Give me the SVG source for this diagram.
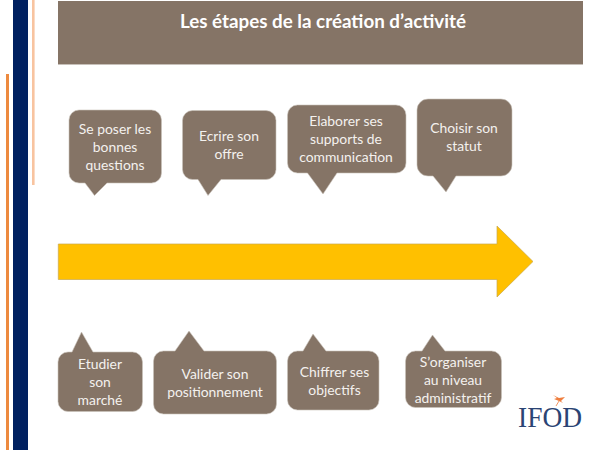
<svg xmlns="http://www.w3.org/2000/svg" width="600" height="450" viewBox="0 0 600 450">
<style>
.c{fill:#857466;stroke:#c9c2bb;stroke-width:.6}
.t{font-family:"Lato","Open Sans","Liberation Sans",sans-serif;font-size:13.9px;fill:#f4f1ee;text-anchor:middle}
</style>
<rect width="600" height="450" fill="#fff"/>
<rect x="13" y="0" width="15" height="450" fill="#002060"/>
<rect x="32" y="0" width="2.600" height="185" fill="#f8c4a0"/>
<rect x="6" y="74" width="3" height="376" fill="#ed8a3f"/>
<g id="title"><rect x="58" y="1" width="525" height="63.500" fill="#857466"/>
<rect x="58" y="64" width="525" height="0.800" fill="#c9c2bb"/>
<text x="323" y="28" style="font-family:'Lato','Open Sans','Liberation Sans',sans-serif;font-size:18.800px;font-weight:700;fill:#fff;text-anchor:middle">Les étapes de la création d’activité</text></g>
<g id="connectors"><path id="arrow" d="M58.300 244H497V226L533 261.500L497 297V279.500H58.300Z" fill="#ffc000" stroke="#c9a94f" stroke-width=".7"/></g>
<g id="n1"><path class="c" d="M79 110H151.500a10 10 0 0 1 10 10V173a10 10 0 0 1-10 10H107L94.500 195.500L85 183H79a10 10 0 0 1-10-10V120a10 10 0 0 1 10-10Z"/>
<text class="t" x="115" y="134">Se poser les</text><text class="t" x="115" y="152">bonnes</text><text class="t" x="115" y="170">questions</text></g>
<g id="n2"><path class="c" d="M192.500 110.500H266a10 10 0 0 1 10 10V169.500a10 10 0 0 1-10 10H221L208 195.500L198 179.500H192.500a10 10 0 0 1-10-10V120.500a10 10 0 0 1 10-10Z"/>
<text class="t" x="229" y="141">Ecrire son</text><text class="t" x="229" y="159">offre</text></g>
<g id="n3"><path class="c" d="M297.500 105H396a10 10 0 0 1 10 10V163a10 10 0 0 1-10 10H337L323 194L307.500 173H297.500a10 10 0 0 1-10-10V115a10 10 0 0 1 10-10Z"/>
<text class="t" x="346" y="126">Elaborer ses</text><text class="t" x="346" y="144">supports de</text><text class="t" x="346" y="162">communication</text></g>
<g id="n4"><path class="c" d="M428 99H501a11 11 0 0 1 11 11V165a11 11 0 0 1-11 11H456L446 192L433 176H428a11 11 0 0 1-11-11V110a11 11 0 0 1 11-11Z"/>
<text class="t" x="464" y="133">Choisir son</text><text class="t" x="464" y="151">statut</text></g>
<g id="n5"><path class="c" d="M68 352H72L81.500 332L93 352H132.500a10 10 0 0 1 10 10V401.500a10 10 0 0 1-10 10H68a10 10 0 0 1-10-10V362a10 10 0 0 1 10-10Z"/>
<text class="t" x="100" y="369">Etudier</text><text class="t" x="100" y="387">son</text><text class="t" x="100" y="405">marché</text></g>
<g id="n6"><path class="c" d="M163.500 351H175L189 331L204 351H266.500a10 10 0 0 1 10 10V404a10 10 0 0 1-10 10H163.500a10 10 0 0 1-10-10V361a10 10 0 0 1 10-10Z"/>
<text class="t" x="215" y="379">Valider son</text><text class="t" x="215" y="397">positionnement</text></g>
<g id="n7"><path class="c" d="M297.500 351H303L313 334L326 351H369a10 10 0 0 1 10 10V400a10 10 0 0 1-10 10H297.500a10 10 0 0 1-10-10V361a10 10 0 0 1 10-10Z"/>
<text class="t" x="334.500" y="377">Chiffrer ses</text><text class="t" x="334.500" y="395">objectifs</text></g>
<g id="n8"><path class="c" d="M415.500 351H422L432.500 335L445 351H491.500a10 10 0 0 1 10 10V397.500a10 10 0 0 1-10 10H415.500a10 10 0 0 1-10-10V361a10 10 0 0 1 10-10Z"/>
<text class="t" x="453" y="367">S’organiser</text><text class="t" x="453" y="385">au niveau</text><text class="t" x="453" y="403">administratif</text></g>
<g id="logo"><path d="M553 395L559 398L565 397L561 401L563 403L559 401L554 399L557 398Z" fill="#ef7d3c"/><path d="M559 401L556 406" stroke="#ef7d3c" fill="none" stroke-width=".8"/>
<text x="518" y="427" textLength="64" lengthAdjust="spacingAndGlyphs" style="font-family:'Liberation Serif',serif;font-size:30px;fill:#2b4474">IFOD</text></g>
</svg>
